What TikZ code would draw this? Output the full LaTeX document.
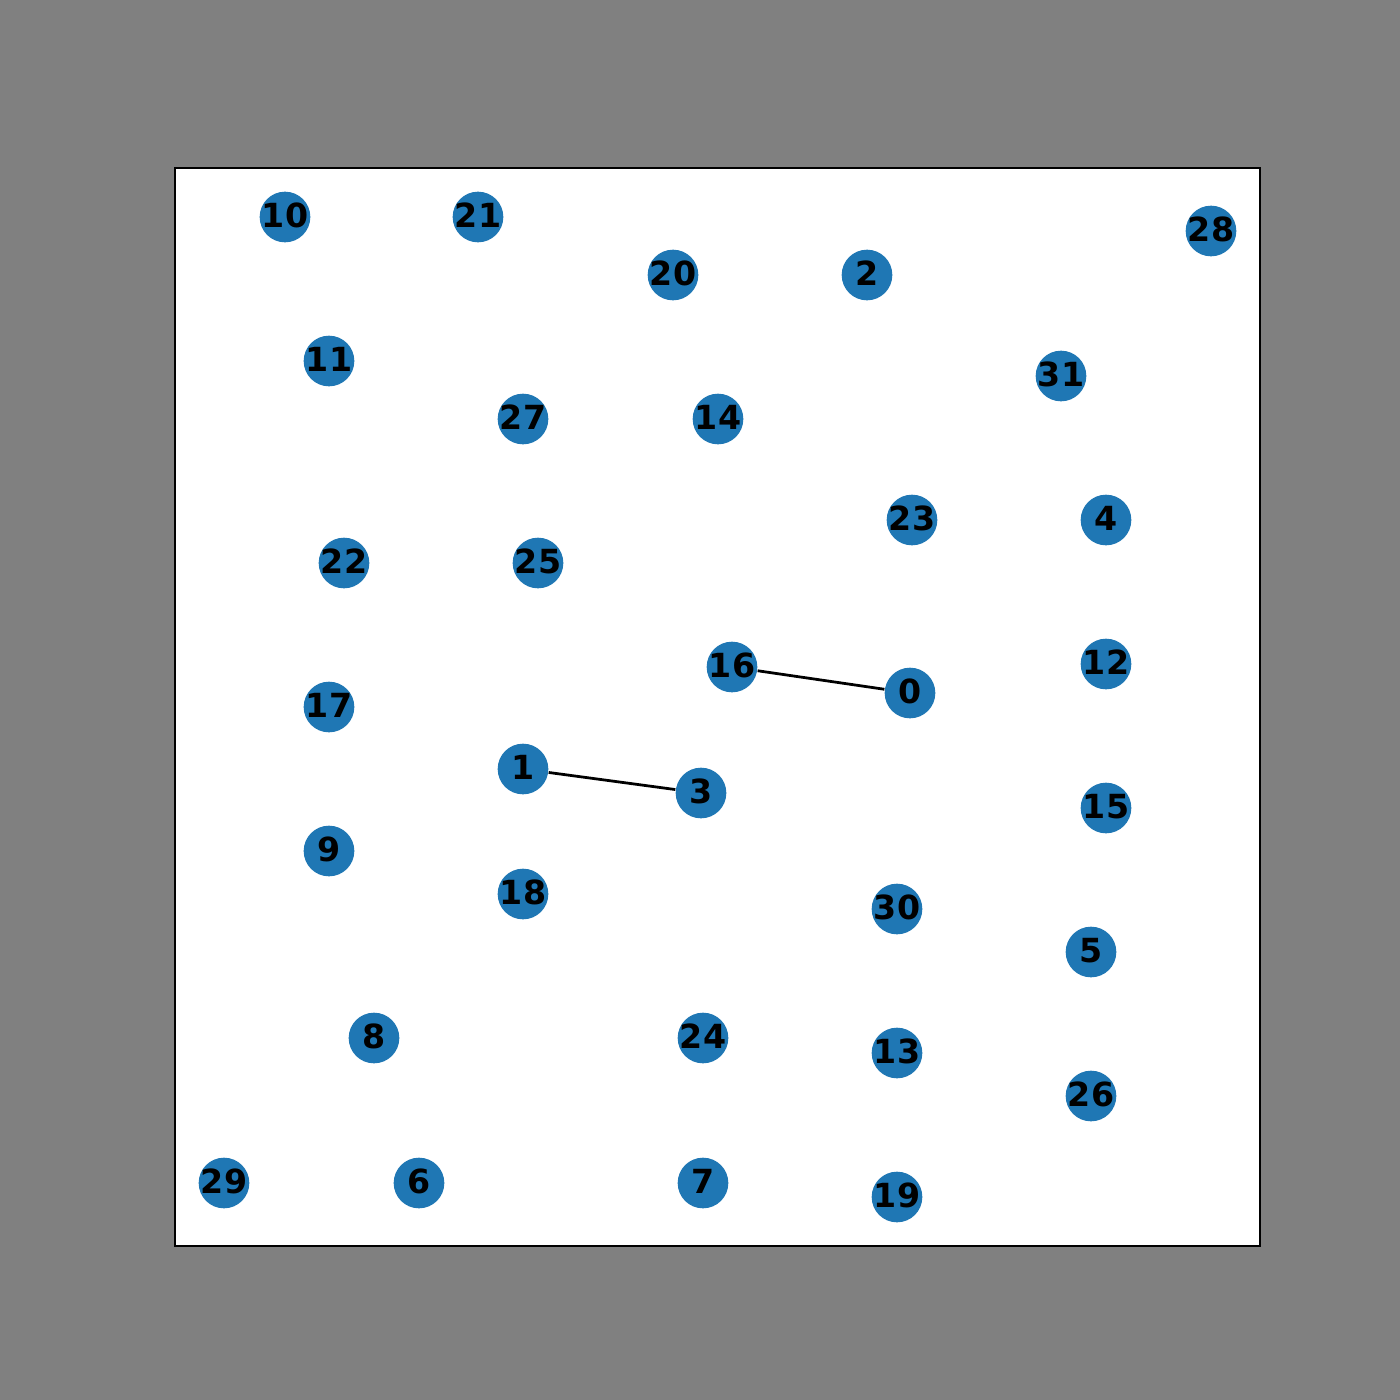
\documentclass[tikz,border=0pt]{standalone}
\usepackage{fontspec}
\setmainfont{DejaVu Sans}
\usepackage{tikz}
\definecolor{nodeblue}{HTML}{1F77B4}
\definecolor{figgray}{HTML}{808080}

\begin{document}
\begin{tikzpicture}[x=0.0127cm, y=-0.0127cm,
	vertex/.style={circle, fill=nodeblue, inner sep=0pt, minimum size=18.3pt},
	tag/.style={font=\fontsize{12}{14}\selectfont\bfseries, text=black, yshift=0.5pt},
	link/.style={black, line width=1pt}]

	% figure and axes
	\fill[figgray] (0,0) rectangle (1400,1400);
	\useasboundingbox (0,0) rectangle (1400,1400);
	\filldraw[fill=white, draw=black, line width=0.8pt] (175,168) rectangle (1260,1246);

	\foreach \n/\x/\y in {10/285/217, 21/478/217, 20/673/275, 2/867/275, 28/1211/231,
		11/329/361, 31/1061/376, 27/523/419, 14/718/419, 23/912/520, 4/1106/520,
		22/344/563, 25/538/563, 16/732/667, 0/910/693, 12/1106/664, 17/329/707,
		1/523/769, 3/701/793, 15/1106/808, 9/329/851, 18/523/894, 30/897/909,
		5/1091/952, 8/374/1038, 24/703/1038, 13/897/1053, 26/1091/1096,
		29/224/1183, 6/419/1183, 7/703/1183, 19/897/1197}
		\node[vertex, label={[tag]center:\n}] (n\n) at (\x,\y) {};

	\draw[link] (n16) -- (n0);
	\draw[link] (n1) -- (n3);
\end{tikzpicture}
\end{document}
